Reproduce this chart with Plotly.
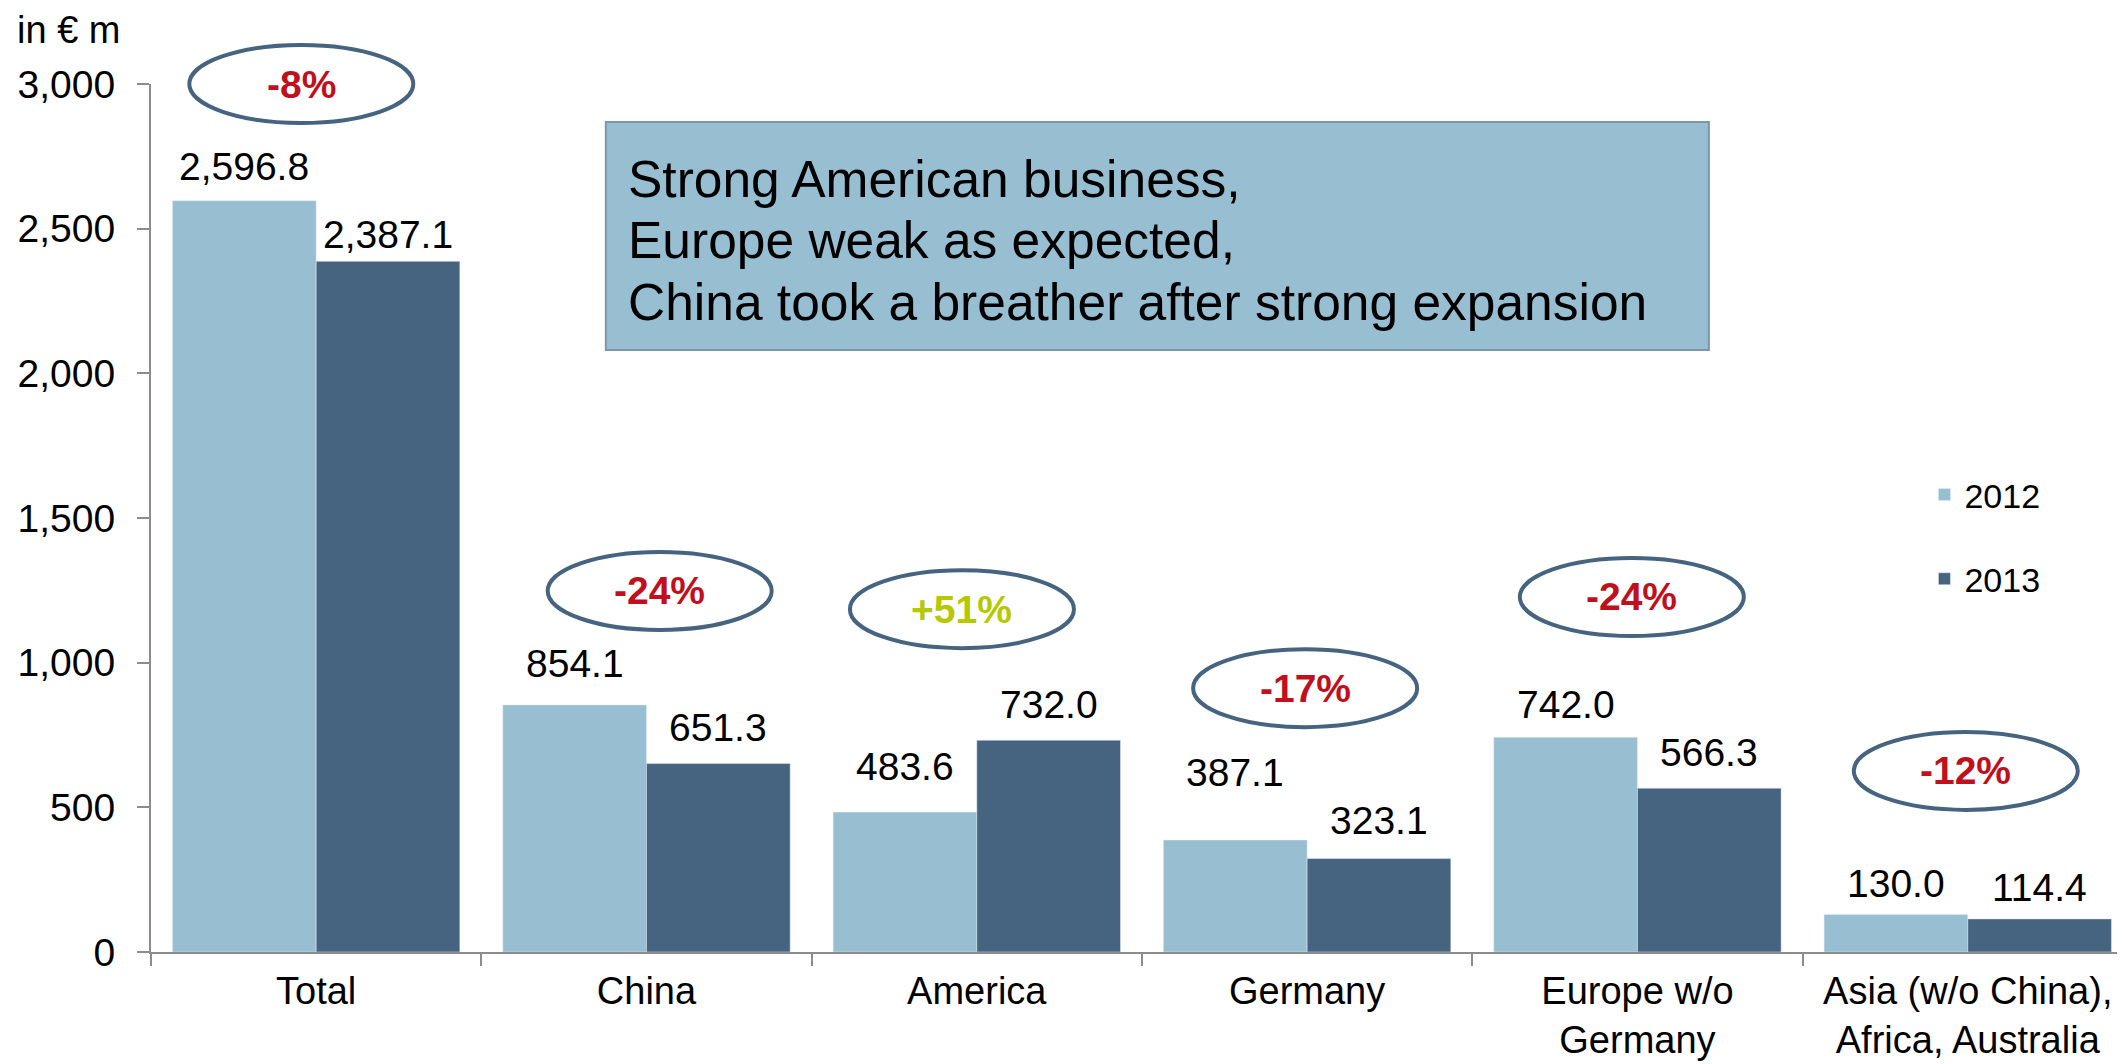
import plotly.graph_objects as go

# ---- data ----
categories = ["Total", "China", "America", "Germany", "Europe w/o<br>Germany",
              "Asia (w/o China),<br>Africa, Australia"]
values_2012 = [2596.8, 854.1, 483.6, 387.1, 742.0, 130.0]
values_2013 = [2387.1, 651.3, 732.0, 323.1, 566.3, 114.4]
change_pct = [-8, -24, 51, -17, -24, -12]
y_ticks = [0, 500, 1000, 1500, 2000, 2500, 3000]
box_lines = ["Strong American business,", "Europe weak as expected,",
             "China took a breather after strong expansion"]

# ---- placement (styling, not data) ----
bubble_dx = [-0.045, 0.04, -0.045, -0.006, -0.017, -0.006]
bubble_y = [3000, 1248, 1185, 912, 1227, 626]
label_lift_2012 = [34, 41, 46, 68, 33, 31]   # px above bar top (label centre)
label_lift_2013 = [27, 36, 36, 38, 36, 31]

FONT = "Liberation Sans, Arial, sans-serif"
LIGHT = "#97BED1"
DARK = "#46647F"
RED = "#C0101E"
GREEN = "#B5C800"
AXIS = "#8C8C8C"
BARGAP = 0.13
XR = [-0.5, 5.476]
YR = [0, 3000]

fig = go.Figure()
fig.add_trace(go.Bar(name="2012", x=categories, y=values_2012,
                     marker_color=LIGHT, legendgroup="a"))
fig.add_trace(go.Bar(name="2013", x=categories, y=values_2013,
                     marker_color=DARK, legendgroup="b"))

shapes = []
annotations = []

# value labels above bars
half = (1 - BARGAP) / 4
for i in range(len(categories)):
    for vals, lifts, dx in ((values_2012, label_lift_2012, -half),
                            (values_2013, label_lift_2013, half)):
        annotations.append(dict(x=i + dx, y=vals[i], xref="x", yref="y",
                                text=f"{vals[i]:,.1f}", showarrow=False,
                                xanchor="center", yanchor="middle",
                                yshift=lifts[i],
                                font=dict(size=39, color="black", family=FONT)))

# change bubbles
xspan = XR[1] - XR[0]
for i, p in enumerate(change_pct):
    cx = i + bubble_dx[i]
    px = (cx - XR[0]) / xspan
    py = (bubble_y[i] - YR[0]) / (YR[1] - YR[0])
    shapes.append(dict(type="circle", xref="paper", yref="paper",
                       xsizemode="pixel", ysizemode="pixel",
                       xanchor=px, yanchor=py, x0=-112, x1=112, y0=-39, y1=39,
                       line=dict(color=DARK, width=4), fillcolor="rgba(0,0,0,0)",
                       layer="above"))
    txt = f"+{p}%" if p > 0 else f"{p}%"
    annotations.append(dict(x=px, y=py, xref="paper", yref="paper",
                            text=f"<b>{txt}</b>",
                            showarrow=False, xanchor="center", yanchor="middle",
                            font=dict(size=39, color=GREEN if p > 0 else RED,
                                      family=FONT)))

# comment box
shapes.append(dict(type="rect", xref="paper", yref="paper",
                   x0=0.2304, x1=0.7892, y0=0.6935, y1=0.9562,
                   fillcolor=LIGHT, line=dict(color="#7A97AB", width=2),
                   layer="below"))
for k, line in enumerate(box_lines):
    annotations.append(dict(xref="paper", yref="paper", x=0.2405,
                            y=0.8906 - k * 0.0708, text=line, showarrow=False,
                            xanchor="left", yanchor="middle",
                            font=dict(size=51.5, color="black", family=FONT)))

# unit label
annotations.append(dict(xref="paper", yref="paper", x=-0.0689, y=1.0622,
                        text="in € m", showarrow=False, xanchor="left",
                        yanchor="middle",
                        font=dict(size=38, color="black", family=FONT)))

# the page body has an 8px margin: offset the figure accordingly
fig.update_layout(
    width=2117, height=1064,
    margin=dict(l=143, r=0, t=76, b=120),
    paper_bgcolor="white", plot_bgcolor="white",
    barmode="group", bargap=BARGAP, bargroupgap=0,
    font=dict(family=FONT, size=38, color="black"),
    showlegend=True,
    legend=dict(x=0.8984, y=0.56, xanchor="left", yanchor="top",
                font=dict(size=34, family=FONT, color="black"),
                tracegroupgap=37, bgcolor="rgba(0,0,0,0)"),
    shapes=shapes, annotations=annotations,
)
fig.update_xaxes(range=XR, showline=True, linecolor=AXIS, linewidth=2,
                 ticks="outside", tickson="boundaries", ticklen=12,
                 tickcolor=AXIS, tickwidth=2, showgrid=False,
                 ticklabelstandoff=4,
                 tickfont=dict(size=38, family=FONT, color="black"))
fig.update_yaxes(range=YR, tickvals=y_ticks, tickformat=",d",
                 showline=True, linecolor=AXIS, linewidth=2, ticks="outside",
                 ticklen=12, tickcolor=AXIS, tickwidth=2, showgrid=False,
                 zeroline=False, ticklabelstandoff=14,
                 tickfont=dict(size=39, family=FONT, color="black"))

fig.write_html("out.html")
